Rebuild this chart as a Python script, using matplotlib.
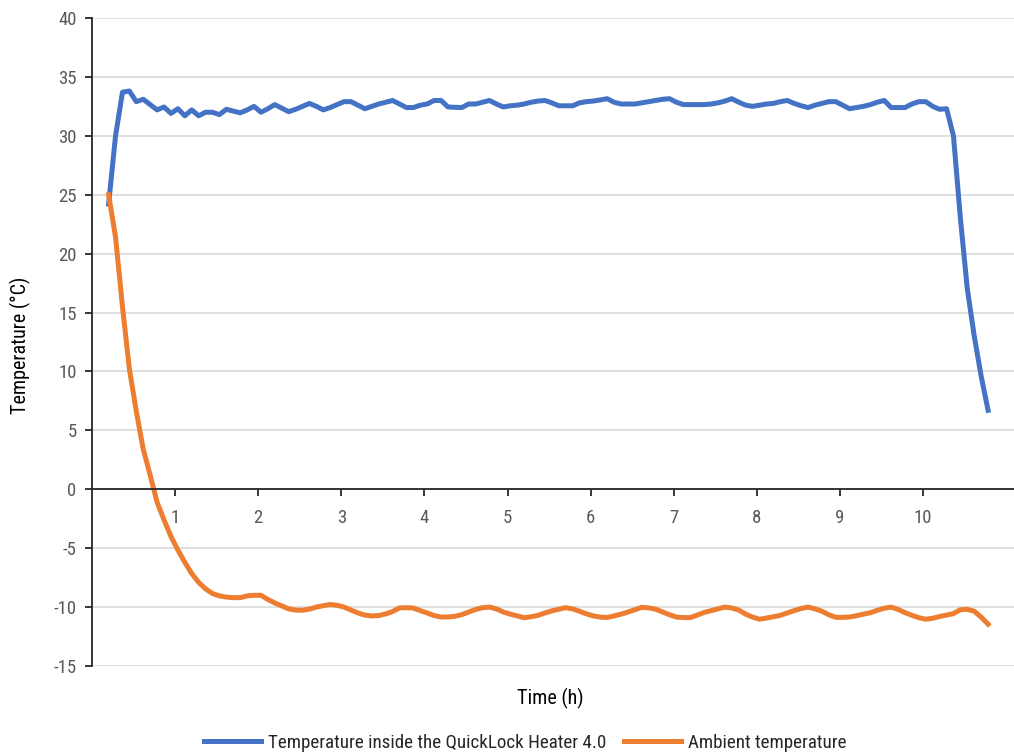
import numpy as np
import matplotlib.pyplot as plt

# readings every 5 minutes, starting at 0.2 h
t_start = 0.2
step_h = 5 / 60

inside = [24.2, 30.0, 33.7, 33.8, 32.9, 33.1, 32.65, 32.2, 32.45, 31.9,
          32.3, 31.7, 32.2, 31.7, 32.0, 32.0, 31.8, 32.25, 32.1, 31.95,
          32.2, 32.5, 32.0, 32.3, 32.65, 32.35, 32.05, 32.25, 32.5, 32.75,
          32.5, 32.2, 32.4, 32.65, 32.9, 32.9, 32.6, 32.3, 32.5, 32.7,
          32.85, 33.0, 32.7, 32.4, 32.4, 32.6, 32.7, 33.0, 33.0, 32.45,
          32.42, 32.4, 32.7, 32.7, 32.85, 33.0, 32.7, 32.45, 32.55, 32.6,
          32.7, 32.85, 32.95, 33.0, 32.8, 32.55, 32.55, 32.55, 32.8, 32.9,
          32.95, 33.05, 33.15, 32.85, 32.7, 32.7, 32.7, 32.8, 32.9, 33.0,
          33.1, 33.15, 32.85, 32.65, 32.65, 32.65, 32.65, 32.7, 32.8, 32.95,
          33.15, 32.85, 32.6, 32.5, 32.6, 32.7, 32.75, 32.9, 33.0, 32.75,
          32.55, 32.4, 32.6, 32.75, 32.9, 32.9, 32.6, 32.3, 32.4, 32.5,
          32.65, 32.85, 33.0, 32.4, 32.4, 32.4, 32.7, 32.9, 32.9, 32.5,
          32.25, 32.3, 30.0, 23.0, 17.0, 13.0, 9.6, 6.7]

ambient = [25.0, 21.4, 15.5, 10.2, 6.6, 3.4, 1.2, -1.1, -2.6, -4.0,
           -5.15, -6.2, -7.15, -7.9, -8.45, -8.85, -9.05, -9.15, -9.2, -9.2,
           -9.05, -9.0, -9.0, -9.35, -9.65, -9.9, -10.15, -10.25, -10.27, -10.17,
           -10.0, -9.88, -9.78, -9.85, -10.0, -10.25, -10.5, -10.68, -10.75, -10.72,
           -10.58, -10.38, -10.07, -10.05, -10.08, -10.3, -10.5, -10.72, -10.84, -10.84,
           -10.78, -10.64, -10.42, -10.2, -10.05, -10.0, -10.15, -10.42, -10.6, -10.75,
           -10.9, -10.82, -10.7, -10.5, -10.32, -10.18, -10.05, -10.15, -10.35, -10.58,
           -10.75, -10.85, -10.88, -10.75, -10.6, -10.42, -10.22, -10.02, -10.07, -10.18,
           -10.42, -10.65, -10.85, -10.89, -10.89, -10.68, -10.45, -10.3, -10.15, -10.0,
           -10.08, -10.25, -10.6, -10.85, -11.03, -10.93, -10.82, -10.7, -10.5, -10.3,
           -10.12, -10.0, -10.15, -10.35, -10.65, -10.87, -10.87, -10.84, -10.73, -10.6,
           -10.48, -10.27, -10.1, -10.0, -10.2, -10.47, -10.7, -10.9, -11.03, -10.95,
           -10.8, -10.68, -10.55, -10.22, -10.19, -10.35, -10.85, -11.45]

time_h = t_start + step_h * np.arange(len(inside))

x_ticks = list(range(1, 11))
y_ticks = list(range(-15, 41, 5))

plt.rcParams['font.family'] = ['Roboto Condensed', 'DejaVu Sans']
plt.rcParams['font.stretch'] = 'condensed'
plt.rcParams['axes.unicode_minus'] = False
tick_color = '#595959'

fig = plt.figure(figsize=(10.14, 7.55), dpi=100)
ax = fig.add_axes([92 / 1014, 1 - 666 / 755, 1 - 92 / 1014, (666 - 18) / 755])

ax.plot(time_h, inside, color='#4472C4', lw=3.6, solid_joinstyle='round',
        label='Temperature inside the QuickLock Heater 4.0')
ax.plot(time_h, ambient, color='#ED7D31', lw=3.6, solid_joinstyle='round',
        label='Ambient temperature')

ax.set_xlim(0, (1014 - 92) / 83.1)
ax.set_ylim(-15, 40)
ax.set_yticks(y_ticks)
ax.set_xticks(x_ticks)
ax.grid(axis='y', color='#D9D9D9', lw=1.2)
ax.set_axisbelow(True)

for s in ['top', 'right']:
    ax.spines[s].set_visible(False)
ax.spines['bottom'].set_position(('data', 0))
ax.spines['bottom'].set_color('#262626')
ax.spines['left'].set_color('#262626')
ax.spines['bottom'].set_linewidth(1.3)
ax.spines['left'].set_linewidth(1.3)

ax.tick_params(axis='x', direction='out', length=5, width=1.3, color='#262626',
               labelsize=13.5, labelcolor=tick_color, pad=9)
ax.tick_params(axis='y', direction='out', length=5, width=1.3, color='#262626',
               labelsize=13.5, labelcolor=tick_color, pad=6)

fig.text(550 / 1014, 1 - 698 / 755, 'Time (h)', ha='center', va='center',
         fontsize=14.5, color='black')
fig.text(20 / 1014, 1 - 345 / 755, 'Temperature (°C)', ha='center', va='center',
         rotation=90, fontsize=14.5, color='black')

fig.legend(loc='center', bbox_to_anchor=(525 / 1014, 1 - 743 / 755), ncol=2,
           frameon=False, fontsize=13.7, handlelength=3.0, columnspacing=0.95,
           handletextpad=0.35, labelcolor='#262626')

plt.savefig('out.png', dpi=100)
